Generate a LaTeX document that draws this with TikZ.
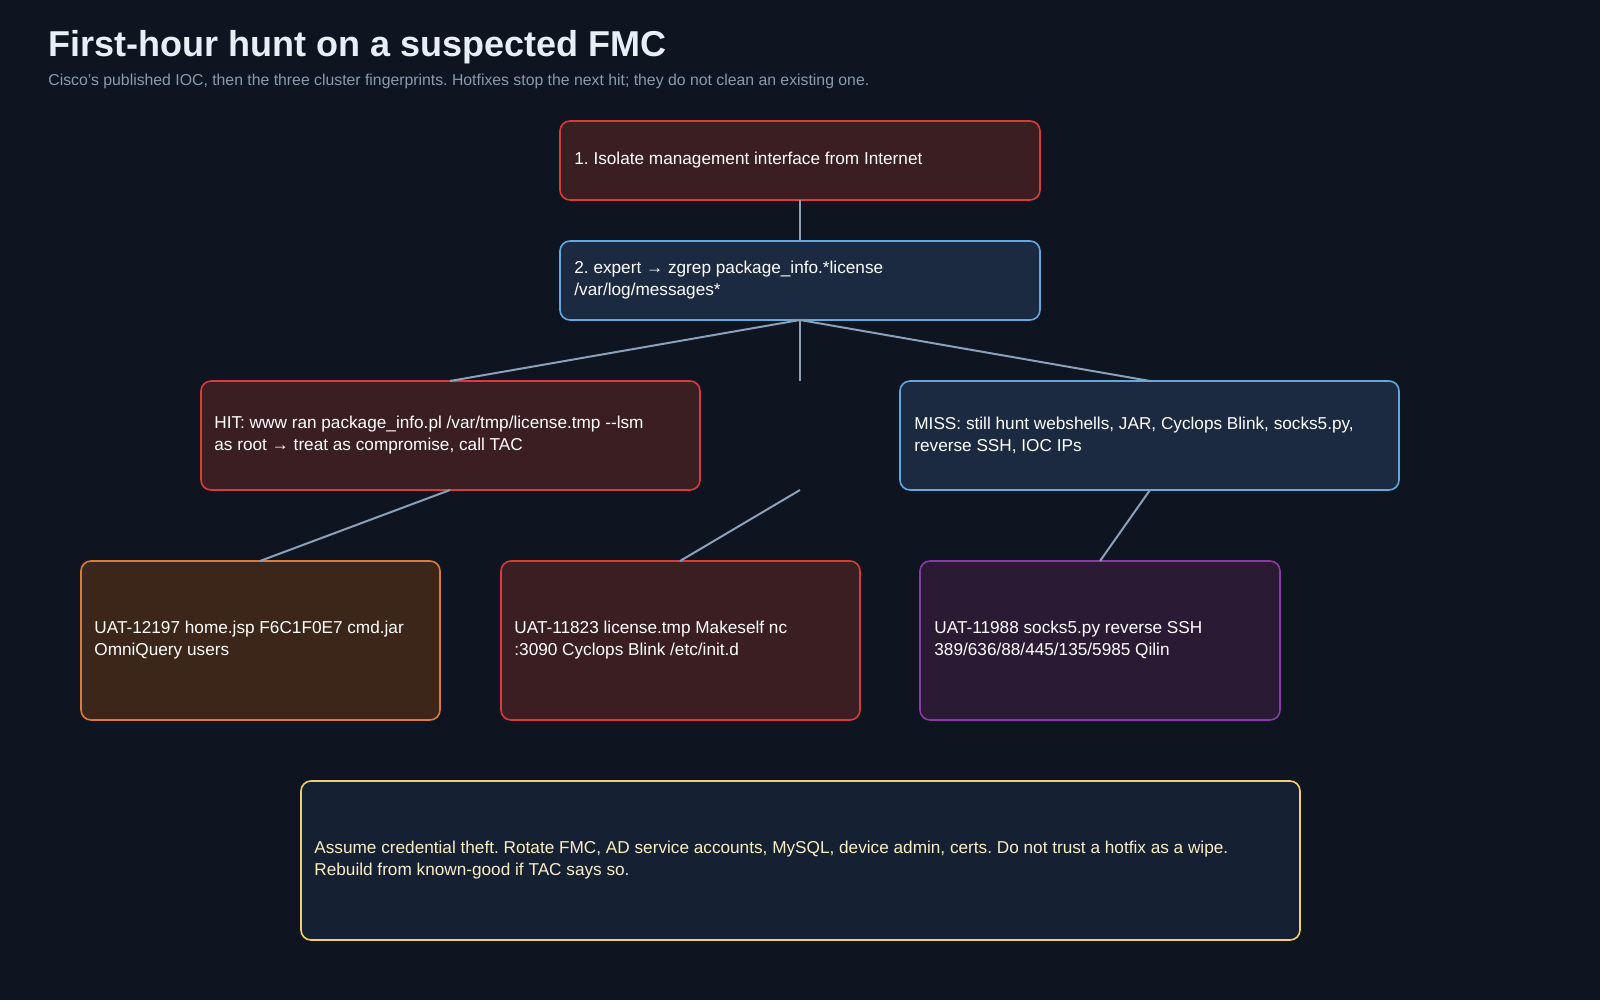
\documentclass[tikz,border=0pt]{standalone}
\usepackage{fontspec}
\setmainfont{Liberation Sans}
\frenchspacing
\definecolor{bg}{HTML}{0E1521}
\definecolor{redf}{HTML}{3B1E22}\definecolor{reds}{HTML}{D93A3A}
\definecolor{bluef}{HTML}{1B2A40}\definecolor{blues}{HTML}{5FA8E0}
\definecolor{orf}{HTML}{3B2619}\definecolor{ors}{HTML}{E07A30}
\definecolor{puf}{HTML}{2A1A33}\definecolor{pus}{HTML}{8A3AA8}
\definecolor{yef}{HTML}{152033}\definecolor{yes}{HTML}{F0D070}\definecolor{yet}{HTML}{FBEEC0}
\definecolor{ln}{HTML}{8AA0BB}\definecolor{sub}{HTML}{8A9AB0}\definecolor{ttl}{HTML}{E8EEF6}
\begin{document}
\begin{tikzpicture}[x=0.5pt,y=-0.5pt,
  box/.style={draw,line width=0.8pt,rounded corners=5pt},
  txt/.style={anchor=west,align=left,text=white,font=\fontsize{8.6}{11}\selectfont,inner sep=0},
  con/.style={draw=ln,line width=1pt}]
\fill[bg] (0,0) rectangle (1600,1000);
\node[anchor=base west,inner sep=0,text=ttl,font=\fontsize{18}{20}\selectfont\bfseries] (title) at (48,57) {First-hour hunt on a suspected FMC};
\node[anchor=base west,inner sep=0,text=sub,font=\fontsize{7.9}{9}\selectfont] (subt) at (48,86) {Cisco's published IOC, then the three cluster fingerprints. Hotfixes stop the next hit; they do not clean an existing one.};
% boxes
\draw[box,fill=redf,draw=reds] (560,121) rectangle (1040,200);
\node[txt] (b1) at (574,160) {1. Isolate management interface from Internet};
\draw[box,fill=bluef,draw=blues] (560,241) rectangle (1040,320);
\node[txt] (b2) at (574,280) {2. expert → zgrep package\_info.*license\\/var/log/messages*};
\draw[box,fill=redf,draw=reds] (201,381) rectangle (700,490);
\node[txt] (hit) at (214,435) {HIT: www ran package\_info.pl /var/tmp/license.tmp -{}-lsm\\as root → treat as compromise, call TAC};
\draw[box,fill=bluef,draw=blues] (900,381) rectangle (1399,490);
\node[txt] (miss) at (914,435) {MISS: still hunt webshells, JAR, Cyclops Blink, socks5.py,\\reverse SSH, IOC IPs};
\draw[box,fill=orf,draw=ors] (81,561) rectangle (440,720);
\node[txt] (o) at (94,640) {UAT-12197 home.jsp F6C1F0E7 cmd.jar\\OmniQuery users};
\draw[box,fill=redf,draw=reds] (501,561) rectangle (860,720);
\node[txt] (r) at (514,640) {UAT-11823 license.tmp Makeself nc\\:3090 Cyclops Blink /etc/init.d};
\draw[box,fill=puf,draw=pus] (920,561) rectangle (1280,720);
\node[txt] (p) at (934,640) {UAT-11988 socks5.py reverse SSH\\389/636/88/445/135/5985 Qilin};
\draw[box,fill=yef,draw=yes] (301,781) rectangle (1300,940);
\node[txt,text=yet] (y) at (314,860) {Assume credential theft. Rotate FMC, AD service accounts, MySQL, device admin, certs. Do not trust a hotfix as a wipe.\\Rebuild from known-good if TAC says so.};
% connector points
\coordinate (b1b) at (800,200); \coordinate (b2t) at (800,241);
\coordinate (b2b) at (800,320);
\coordinate (hitt) at (450,381); \coordinate (hitb) at (450,490);
\coordinate (midt) at (800,381); \coordinate (midb) at (800,490);
\coordinate (misst) at (1150,381); \coordinate (missb) at (1150,490);
\coordinate (ot) at (260,561); \coordinate (rt) at (680,561); \coordinate (pt) at (1100,561);
\draw[con] (b1b) -- (b2t);
\draw[con] (b2b) -- (hitt);
\draw[con] (b2b) -- (midt);
\draw[con] (b2b) -- (misst);
\draw[con] (hitb) -- (ot);
\draw[con] (midb) -- (rt);
\draw[con] (missb) -- (pt);
\end{tikzpicture}
\end{document}
